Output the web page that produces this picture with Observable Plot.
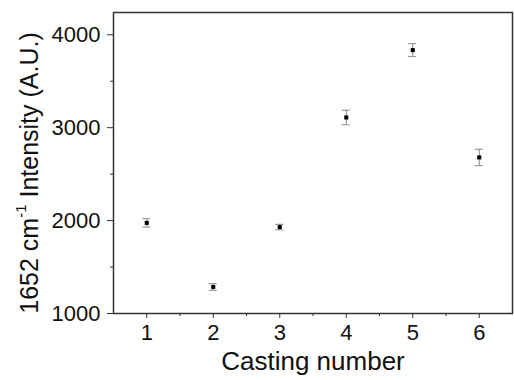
<!DOCTYPE html>
<html><head><meta charset="utf-8">
<script src="https://cdn.jsdelivr.net/npm/d3@7"></script>
<script src="https://cdn.jsdelivr.net/npm/@observablehq/plot@0.6"></script>
<style>body{margin:0;background:#fff;} svg{display:block;} svg text{font-family:'Liberation Sans', Arial, sans-serif;}</style>
</head><body><div id="chart"></div>
<script>
const casting = [1, 2, 3, 4, 5, 6];
const intensity = [1975, 1285, 1930, 3110, 3835, 2680];
const errors = [45, 36, 30, 78, 70, 88];
const xMajor = [1, 2, 3, 4, 5, 6];
const xMinor = [1.5, 2.5, 3.5, 4.5, 5.5];
const yMajor = [1000, 2000, 3000, 4000];
const yMinor = [1500, 2500, 3500];

const data = casting.map((c, i) => ({x: c, y: intensity[i], e: errors[i]}));
const capHalf = 0.06;
const font = "'Liberation Sans', Arial, sans-serif";

const plot = Plot.plot({
  width: 514, height: 380,
  marginLeft: 113, marginRight: 2, marginTop: 12, marginBottom: 67,
  style: {fontFamily: font, background: "#fff"},
  x: {domain: [0.5, 6.5]},
  y: {domain: [1000, 4240]},
  marks: [
    Plot.axisX({ticks: xMajor, tickFormat: "d", tickSize: 5, tickPadding: 6, fontSize: 22, stroke: "#333", color: "#111", label: null}),
    Plot.axisX({ticks: xMinor, tickSize: 3, text: null, stroke: "#333", label: null}),
    Plot.axisY({ticks: yMajor, tickFormat: "d", tickSize: 6, tickPadding: 7, fontSize: 22, stroke: "#333", color: "#111", label: null}),
    Plot.axisY({ticks: yMinor, tickSize: 3, text: null, stroke: "#333", label: null}),
    Plot.frame({stroke: "#333", strokeWidth: 1.5}),
    Plot.ruleX(data, {x: "x", y1: d => d.y - d.e, y2: d => d.y + d.e, stroke: "#888", strokeWidth: 1}),
    Plot.ruleY(data, {y: d => d.y + d.e, x1: d => d.x - capHalf, x2: d => d.x + capHalf, stroke: "#888", strokeWidth: 1}),
    Plot.ruleY(data, {y: d => d.y - d.e, x1: d => d.x - capHalf, x2: d => d.x + capHalf, stroke: "#888", strokeWidth: 1}),
    Plot.dot(data, {x: "x", y: "y", symbol: "square", r: 2.3, fill: "#000", stroke: "none"}),
    Plot.text(["Casting number"], {frameAnchor: "bottom", dy: 56, fontSize: 26, fill: "#111"})
  ]
});

const svg = d3.select(plot);
const yl = svg.append("text")
  .attr("transform", "translate(31,173) rotate(-90)")
  .attr("text-anchor", "middle")
  .attr("dominant-baseline", "middle")
  .attr("font-size", 25)
  .attr("fill", "#111");
yl.append("tspan").text("1652 cm");
yl.append("tspan").attr("font-size", 15).attr("baseline-shift", "super").text("-1");
yl.append("tspan").text(" Intensity (A.U.)");

document.getElementById("chart").appendChild(plot);
</script>
</body></html>
